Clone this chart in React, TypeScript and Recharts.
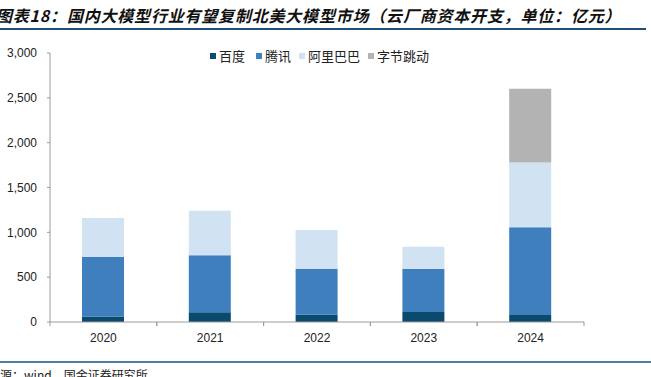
import React from "react";
import { BarChart, Bar, XAxis, YAxis } from "recharts";

const years = ["2020", "2021", "2022", "2023", "2024"];
const baidu = [60, 110, 80, 112, 78];
const tencent = [665, 634, 513, 480, 978];
const alibaba = [435, 497, 433, 248, 722];
const bytedance = [0, 0, 0, 0, 822];
const yTicks = [0, 500, 1000, 1500, 2000, 2500, 3000];

const seriesNames = ["百度", "腾讯", "阿里巴巴", "字节跳动"];
const seriesKeys = ["baidu", "tencent", "alibaba", "bytedance"];
const seriesColors = ["#0a4a6e", "#3f7fbd", "#d1e2f2", "#b3b3b3"];

const data = years.map((y, i) => ({
  year: y,
  baidu: baidu[i],
  tencent: tencent[i],
  alibaba: alibaba[i],
  bytedance: bytedance[i] || null,
}));

const axisFont = "'Liberation Sans', Arial, sans-serif";
const cjkFont = "'Noto Sans CJK SC', sans-serif";

const XTick = (props: any) => {
  const { x, y, payload } = props;
  const half = payload && payload.offset ? payload.offset : 53.4;
  return (
    <g>
      <line x1={x - half} y1={y - 8} x2={x - half} y2={y - 4} stroke="#9a9a9a" />
      <line x1={x + half} y1={y - 8} x2={x + half} y2={y - 4} stroke="#9a9a9a" />
      <text x={x} y={y + 12} textAnchor="middle" fontSize={12} fontFamily={axisFont} fill="#222">
        {payload.value}
      </text>
    </g>
  );
};

const LegendBox = () => (
  <div
    style={{
      position: "absolute",
      left: 210,
      top: 46,
      display: "flex",
      alignItems: "center",
      fontFamily: cjkFont,
      fontSize: 13,
      color: "#222",
      whiteSpace: "nowrap",
    }}
  >
    {seriesNames.map((n, i) => (
      <div key={n} style={{ display: "flex", alignItems: "center", marginRight: i === 0 ? 11 : 8 }}>
        <span style={{ width: 6, height: 6, background: seriesColors[i], display: "inline-block", marginRight: 3 }} />
        <span>{n}</span>
      </div>
    ))}
  </div>
);

export default function App() {
  return (
    <div style={{ position: "fixed", left: 0, top: 0, width: 651, height: 377, overflow: "hidden", background: "#fff" }}>
      <div
        style={{
          position: "absolute",
          left: -4,
          top: 3,
          fontFamily: cjkFont,
          fontSize: 16,
          fontStyle: "italic",
          fontWeight: 700,
          letterSpacing: 0.8,
          whiteSpace: "nowrap",
          color: "#111",
        }}
      >
        图表18：国内大模型行业有望复制北美大模型市场（云厂商资本开支，单位：亿元）
      </div>
      <div style={{ position: "absolute", left: 0, top: 28, width: 646, height: 2, background: "#1d4f7a" }} />
      <div style={{ position: "absolute", left: 0, top: 361, width: 651, height: 2, background: "#4f7ea0" }} />
      <div
        style={{
          position: "absolute",
          left: -12,
          top: 366,
          fontFamily: cjkFont,
          fontSize: 12,
          whiteSpace: "nowrap",
          color: "#222",
        }}
      >
        来源：wind，国金证券研究所
      </div>
      <div style={{ position: "absolute", left: 0, top: 0 }}>
        <BarChart width={651} height={350} data={data} margin={{ top: 53, right: 67, left: 10, bottom: 8 }} barSize={42}>
          <XAxis
            dataKey="year"
            axisLine={{ stroke: "#9a9a9a" }}
            tickLine={false}
            tick={<XTick />}
            height={20}
            interval={0}
          />
          <YAxis
            domain={[0, 3000]}
            ticks={yTicks}
            width={40}
            axisLine={{ stroke: "#9a9a9a" }}
            tickLine={{ stroke: "#9a9a9a" }}
            tickSize={3}
            tickFormatter={(v: number) => v.toLocaleString("en-US")}
            tick={{ fontSize: 12, fontFamily: axisFont, fill: "#222", dx: -8 }}
          />
          {seriesKeys.map((k, i) => (
            <Bar key={k} dataKey={k} name={seriesNames[i]} stackId="a" fill={seriesColors[i]} isAnimationActive={false} />
          ))}
        </BarChart>
      </div>
      <LegendBox />
    </div>
  );
}
